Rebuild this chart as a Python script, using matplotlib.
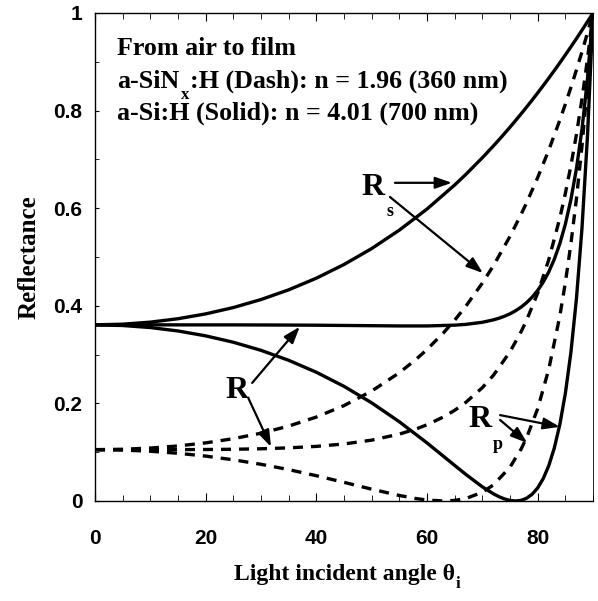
import matplotlib
matplotlib.use("Agg")
import matplotlib.pyplot as plt
from matplotlib.ticker import MultipleLocator

# a-SiNx:H, n = 1.96 (dash)
ang_sin = [0, 5, 10, 15, 20, 25, 30, 35, 40, 45, 50, 55, 58, 60, 63, 65, 67, 70, 72, 75,
           77, 78, 80, 82, 84, 85, 86, 87, 88, 89, 90]
rs_sin = [0.1052, 0.1060, 0.1085, 0.1128, 0.1191, 0.1277, 0.1389, 0.1535, 0.1720, 0.1955,
          0.2253, 0.2629, 0.2901, 0.3105, 0.3449, 0.3706, 0.3989, 0.4466, 0.4823, 0.5424,
          0.5873, 0.6113, 0.6628, 0.7190, 0.7805, 0.8133, 0.8475, 0.8832, 0.9205, 0.9594, 1.0]
rp_sin = [0.1052, 0.1044, 0.1019, 0.0978, 0.0920, 0.0844, 0.0752, 0.0643, 0.0518, 0.0382,
          0.0242, 0.0113, 0.0050, 0.0020, 0.0000, 0.0012, 0.0050, 0.0179, 0.0330, 0.0694,
          0.1064, 0.1298, 0.1893, 0.2700, 0.3792, 0.4475, 0.5269, 0.6193, 0.7271, 0.8529, 1.0]
r_sin = [0.1052, 0.1052, 0.1052, 0.1053, 0.1055, 0.1060, 0.1070, 0.1089, 0.1119, 0.1169,
         0.1247, 0.1371, 0.1475, 0.1562, 0.1724, 0.1859, 0.2020, 0.2323, 0.2576, 0.3059,
         0.3468, 0.3706, 0.4260, 0.4945, 0.5799, 0.6304, 0.6872, 0.7513, 0.8238, 0.9062, 1.0]

# a-Si:H, n = 4.01 (solid)
ang_si = [0, 5, 10, 15, 20, 25, 30, 35, 40, 45, 50, 55, 60, 65, 67, 70, 72, 73, 74, 75,
          76, 77, 78, 79, 80, 81, 82, 83, 84, 85, 86, 87, 88, 89, 90]
rs_si = [0.3610, 0.3623, 0.3665, 0.3735, 0.3834, 0.3964, 0.4128, 0.4327, 0.4566, 0.4846,
         0.5173, 0.5551, 0.5983, 0.6476, 0.6691, 0.7034, 0.7276, 0.7402, 0.7530, 0.7661,
         0.7796, 0.7933, 0.8073, 0.8216, 0.8363, 0.8512, 0.8665, 0.8820, 0.8979, 0.9142,
         0.9307, 0.9475, 0.9647, 0.9822, 1.0]
rp_si = [0.3610, 0.3596, 0.3554, 0.3484, 0.3384, 0.3253, 0.3087, 0.2883, 0.2638, 0.2349,
         0.2011, 0.1623, 0.1190, 0.0729, 0.0546, 0.0290, 0.0147, 0.0088, 0.0042, 0.0011,
         0.0000, 0.0013, 0.0057, 0.0139, 0.0269, 0.0459, 0.0724, 0.1085, 0.1568, 0.2206,
         0.3045, 0.4145, 0.5587, 0.7486, 1.0]
r_si = [0.3610, 0.3610, 0.3610, 0.3609, 0.3609, 0.3609, 0.3607, 0.3605, 0.3602, 0.3597,
        0.3592, 0.3587, 0.3587, 0.3603, 0.3619, 0.3662, 0.3712, 0.3745, 0.3786, 0.3836,
        0.3898, 0.3973, 0.4065, 0.4178, 0.4316, 0.4485, 0.4694, 0.4953, 0.5274, 0.5674,
        0.6176, 0.6810, 0.7617, 0.8654, 1.0]

serif = "Liberation Serif"
sans = "Liberation Sans"

fig = plt.figure(figsize=(5.98, 6.01), dpi=100)
ax = fig.add_axes([0.1589, 0.1664, 0.8328, 0.8120])

dash = (0, (3.0, 2.4))
lw = 2.4
ax.plot(ang_si, rs_si, color="black", lw=lw)
ax.plot(ang_si, rp_si, color="black", lw=lw)
ax.plot(ang_si, r_si, color="black", lw=lw)
ax.plot(ang_sin, rs_sin, color="black", lw=lw, linestyle=dash)
ax.plot(ang_sin, rp_sin, color="black", lw=lw, linestyle=dash)
ax.plot(ang_sin, r_sin, color="black", lw=lw, linestyle=dash)

ax.set_xlim(0, 90)
ax.set_ylim(0, 1)
ax.xaxis.set_major_locator(MultipleLocator(20))
ax.xaxis.set_minor_locator(MultipleLocator(5))
ax.yaxis.set_minor_locator(MultipleLocator(0.1))
ax.set_yticks([0, 0.2, 0.4, 0.6, 0.8, 1.0])
ax.set_yticklabels(["0", "0.2", "0.4", "0.6", "0.8", "1"])
ax.tick_params(axis="x", which="both", direction="in", top=True, pad=20)
ax.tick_params(axis="x", which="major", length=6)
ax.tick_params(axis="x", which="minor", length=4)
ax.tick_params(axis="y", which="both", direction="in", length=3, pad=9)
for lab in ax.get_xticklabels() + ax.get_yticklabels():
    lab.set_fontfamily(sans)
    lab.set_fontweight("bold")
    lab.set_fontsize(15)
for s in ax.spines.values():
    s.set_linewidth(1.0)
ax.spines["right"].set_linewidth(0.6)

ax.set_ylabel("Reflectance", fontfamily=serif, fontweight="bold", fontsize=18, labelpad=9)
xl = ax.set_xlabel("Light incident angle \u03b8", fontfamily=serif, fontweight="bold",
                   fontsize=17, labelpad=12)
ax.annotate("i", xy=(1, 0), xycoords=xl, xytext=(1, -5), textcoords="offset points",
            fontfamily=serif, fontweight="bold", fontsize=12, va="bottom")

# header text
tkw = dict(fontfamily=serif, fontweight="bold", fontsize=18.7)
ax.text(0.044, 0.914, "From air to film", transform=ax.transAxes, va="baseline", **tkw)
t1 = ax.text(0.044, 0.846, "a-SiN", transform=ax.transAxes, va="baseline", **tkw)
tx = ax.annotate("x", xy=(1, 0), xycoords=t1, xytext=(1, -7), textcoords="offset points",
                 va="bottom", fontfamily=serif, fontweight="bold", fontsize=12)
ax.annotate(":H (Dash): n = 1.96 (360 nm)", xy=(1, 0), xycoords=(tx, t1),
            xytext=(1, 0), textcoords="offset points", va="bottom", **tkw)
ax.text(0.044, 0.781, "a-Si:H (Solid): n = 4.01 (700 nm)", transform=ax.transAxes,
        va="baseline", **tkw)

# curve labels
rkw = dict(fontfamily=serif, fontweight="bold", fontsize=23, ha="center", va="center")
skw = dict(fontfamily=serif, fontweight="bold", fontsize=13, ha="center", va="center")
akw = dict(arrowstyle="-|>,head_length=1.0,head_width=0.35", color="black", lw=1.6,
           shrinkA=0, shrinkB=0)

ax.text(50.2, 0.643, "R", **rkw)
ax.text(53.3, 0.593, "s", **skw)
ax.annotate("", xy=(64.5, 0.652), xytext=(54.2, 0.652), arrowprops=akw)
ax.annotate("", xy=(70.1, 0.467), xytext=(53.3, 0.623), arrowprops=akw)

ax.text(25.7, 0.227, "R", **rkw)
ax.annotate("", xy=(37.0, 0.357), xytext=(28.4, 0.242), arrowprops=akw)
ax.annotate("", xy=(31.8, 0.111), xytext=(27.7, 0.211), arrowprops=akw)

ax.text(69.6, 0.166, "R", **rkw)
ax.text(72.7, 0.115, "p", **skw)
ax.annotate("", xy=(84.0, 0.152), xytext=(73.2, 0.176), arrowprops=akw)
ax.annotate("", xy=(78.1, 0.119), xytext=(73.2, 0.166), arrowprops=akw)

fig.savefig("out.png", dpi=100)
